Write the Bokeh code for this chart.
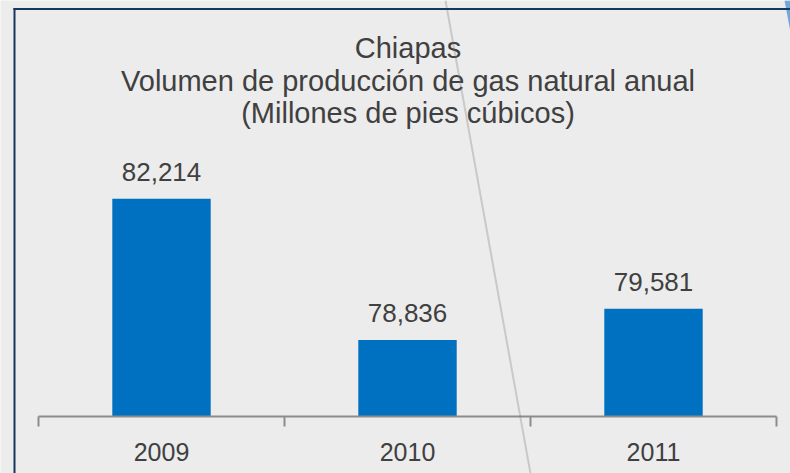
from bokeh.plotting import figure
from bokeh.models import (Range1d, FixedTicker, Label, PolyAnnotation, ColumnDataSource)
from bokeh.core.properties import value
from bokeh.embed import file_html
from bokeh.resources import INLINE

# ---- data ----
years = ["2009", "2010", "2011"]
volumes = [82214, 78836, 79581]
title_lines = ["Chiapas", "Volumen de producción de gas natural anual", "(Millones de pies cúbicos)"]

BG = "#ececec"
BAR = "#0070c0"
TXT = "#404040"
AXIS = "#8c8c8c"
NAVY = "#17375e"
FONT = "Liberation Sans"

W, H = 790, 473
Y_MIN = 77000                 # value axis start (bars rise from here)
Y_BOTTOM, Y_TOP = 75635, 86966
X_LEFT, X_RIGHT = -0.1545, 3.0569

n = len(years)
centers = [i + 0.5 for i in range(n)]
labels = [f"{v:,}" for v in volumes]

src = ColumnDataSource(dict(x=centers, top=volumes, label=labels))

p = figure(width=W, height=H, output_backend="svg", toolbar_location=None,
           x_range=Range1d(X_LEFT, X_RIGHT), y_range=Range1d(Y_BOTTOM, Y_TOP),
           y_axis_location=None, min_border=0)

p.background_fill_color = BG
p.border_fill_color = BG
p.outline_line_color = None
p.xgrid.visible = False
p.ygrid.visible = False

p.vbar(x="x", top="top", bottom=Y_MIN, width=0.4, source=src,
       fill_color=BAR, line_color=None)

p.text(x="x", y="top", text="label", source=src, text_align="center",
       text_baseline="alphabetic", y_offset=-27, text_font=value(FONT),
       text_font_size="26px", text_color=TXT)

ax = p.xaxis[0]
ax.fixed_location = Y_MIN
ax.bounds = (0, n)
ax.ticker = FixedTicker(ticks=centers, minor_ticks=list(range(n + 1)))
ax.major_label_overrides = {c: y for c, y in zip(centers, years)}
ax.axis_line_color = AXIS
ax.axis_line_width = 2
ax.major_tick_line_color = None
ax.major_tick_out = 0
ax.major_tick_in = 0
ax.minor_tick_line_color = AXIS
ax.minor_tick_line_width = 2
ax.minor_tick_out = 10
ax.minor_tick_in = 0
ax.major_label_standoff = 16
ax.major_label_text_font = FONT
ax.major_label_text_font_size = "25px"
ax.major_label_text_color = TXT

# title lines
for txt, yb in zip(title_lines, [47, 80, 112]):
    p.add_layout(Label(x=407.5, y=yb, x_units="canvas", y_units="canvas", text=txt,
                       text_align="center", text_baseline="alphabetic",
                       text_font=FONT, text_font_size="29px", text_color=TXT))

# slide decorations (canvas units)
p.add_layout(PolyAnnotation(xs=[445, 530], ys=[0, 473],
                            xs_units="canvas", ys_units="canvas",
                            fill_alpha=0, line_color="#777777", line_width=2))
p.add_layout(PolyAnnotation(xs=[784, 790, 790], ys=[0, 0, 32],
                            xs_units="canvas", ys_units="canvas",
                            fill_color="#6fa8dc", fill_alpha=1, line_color=None))
p.add_layout(PolyAnnotation(xs=[13, 15, 15, 13], ys=[7.5, 7.5, 473, 473],
                            xs_units="canvas", ys_units="canvas",
                            fill_color=NAVY, fill_alpha=1, line_color=None))
p.add_layout(PolyAnnotation(xs=[13, 790, 790, 13], ys=[7.5, 7.5, 9.5, 9.5],
                            xs_units="canvas", ys_units="canvas",
                            fill_color=NAVY, fill_alpha=1, line_color=None))

open("out.html", "w").write(file_html(p, INLINE))
